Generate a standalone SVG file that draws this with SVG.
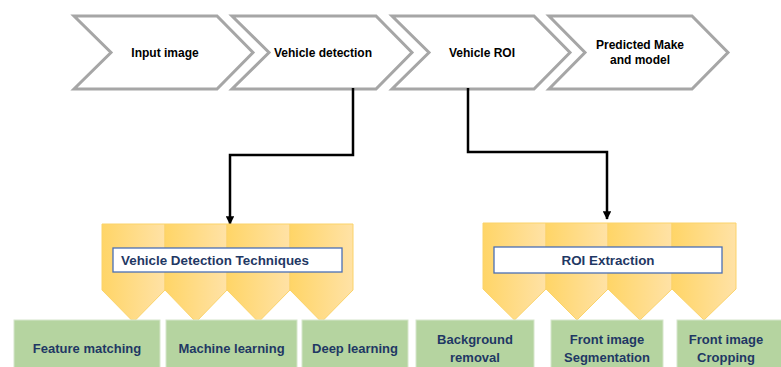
<svg xmlns="http://www.w3.org/2000/svg" width="781" height="367" viewBox="0 0 781 367">
  <defs>
    <linearGradient id="gold" x1="0" y1="0" x2="1" y2="0">
      <stop offset="0" stop-color="#ffd567"/>
      <stop offset="1" stop-color="#ffe2a6"/>
    </linearGradient>
    <marker id="arrow" viewBox="0 0 10 10" refX="9" refY="5" markerWidth="3.4" markerHeight="3.4" orient="auto" markerUnits="strokeWidth">
      <path d="M0,0 L10,5 L0,10 z" fill="#000"/>
    </marker>
  </defs>
  <style>
    .chev { fill: #ffffff; stroke: #a6a6a6; stroke-width: 3; stroke-linejoin: miter; }
    .step { font-family: "Liberation Sans", Arial, sans-serif; font-weight: bold; font-size: 12px; fill: #000; text-anchor: middle; }
    .tab { fill: url(#gold); stroke: #fbd36a; stroke-width: 1; }
    .title-box { fill: #ffffff; stroke: #4a6fb5; stroke-width: 1.3; }
    .title { font-family: "Liberation Sans", Arial, sans-serif; font-weight: bold; font-size: 13.4px; fill: #1f3864; }
    .leaf { fill: #b5d4a0; stroke: #d6e6cb; stroke-width: 1; }
    .leaf-text { font-family: "Liberation Sans", Arial, sans-serif; font-weight: bold; font-size: 13px; fill: #1f3864; text-anchor: middle; }
    .link { fill: none; stroke: #000; stroke-width: 2.5; stroke-linejoin: miter; }
  </style>

  <!-- pipeline steps -->
  <g id="step-input">
    <polygon class="chev" points="74,16 217,16 253,52.5 217,89 74,89 111,52.5"/>
    <text class="step" x="165" y="57">Input image</text>
  </g>
  <g id="step-detection">
    <polygon class="chev" points="232,16 376,16 412,52.5 376,89 232,89 269,52.5"/>
    <text class="step" x="323" y="57">Vehicle detection</text>
  </g>
  <g id="step-roi">
    <polygon class="chev" points="392,16 534,16 570,52.5 534,89 392,89 429,52.5"/>
    <text class="step" x="482" y="57">Vehicle ROI</text>
  </g>
  <g id="step-prediction">
    <polygon class="chev" points="549,16 692,16 728,52.5 692,89 549,89 585,52.5"/>
    <text class="step" x="640" y="49">Predicted Make</text>
    <text class="step" x="640" y="64">and model</text>
  </g>

  <!-- connectors -->
  <g id="connectors">
    <path class="link" d="M353,88 V155 H230 V224" marker-end="url(#arrow)"/>
    <path class="link" d="M468,88 V152 H607 V219" marker-end="url(#arrow)"/>
  </g>

  <!-- vehicle detection techniques -->
  <g id="detection-techniques">
    <polygon class="tab" points="102,224 165,224 165,290 133.5,322 102,290"/>
    <polygon class="tab" points="165,224 227,224 227,290 196,322 165,290"/>
    <polygon class="tab" points="227,224 290,224 290,290 258.5,322 227,290"/>
    <polygon class="tab" points="290,224 353,224 353,290 321.5,322 290,290"/>
    <rect class="title-box" x="113" y="248" width="229" height="24"/>
    <text class="title" x="121" y="265">Vehicle Detection Techniques</text>
  </g>

  <!-- ROI extraction -->
  <g id="roi-extraction">
    <polygon class="tab" points="483,223 546,223 546,289 514.5,320 483,289"/>
    <polygon class="tab" points="546,223 608,223 608,289 577,320 546,289"/>
    <polygon class="tab" points="608,223 672,223 672,289 640,320 608,289"/>
    <polygon class="tab" points="672,223 736,223 736,289 704,320 672,289"/>
    <rect class="title-box" x="494" y="247" width="228" height="26"/>
    <text class="title" x="608" y="265" text-anchor="middle">ROI Extraction</text>
  </g>

  <!-- leaf methods -->
  <g id="feature-matching">
    <rect class="leaf" x="14" y="320" width="146" height="52"/>
    <text class="leaf-text" x="87" y="353">Feature matching</text>
  </g>
  <g id="machine-learning">
    <rect class="leaf" x="166" y="320" width="131" height="52"/>
    <text class="leaf-text" x="231.5" y="353">Machine learning</text>
  </g>
  <g id="deep-learning">
    <rect class="leaf" x="302" y="320" width="106" height="52"/>
    <text class="leaf-text" x="355" y="353">Deep learning</text>
  </g>
  <g id="background-removal">
    <rect class="leaf" x="416" y="320" width="118" height="52"/>
    <text class="leaf-text" x="475" y="344">Background</text>
    <text class="leaf-text" x="475" y="362">removal</text>
  </g>
  <g id="front-segmentation">
    <rect class="leaf" x="551" y="320" width="112" height="52"/>
    <text class="leaf-text" x="607" y="344">Front image</text>
    <text class="leaf-text" x="607" y="362">Segmentation</text>
  </g>
  <g id="front-cropping">
    <rect class="leaf" x="677" y="320" width="110" height="52"/>
    <text class="leaf-text" x="726" y="344">Front image</text>
    <text class="leaf-text" x="726" y="362">Cropping</text>
  </g>
</svg>
